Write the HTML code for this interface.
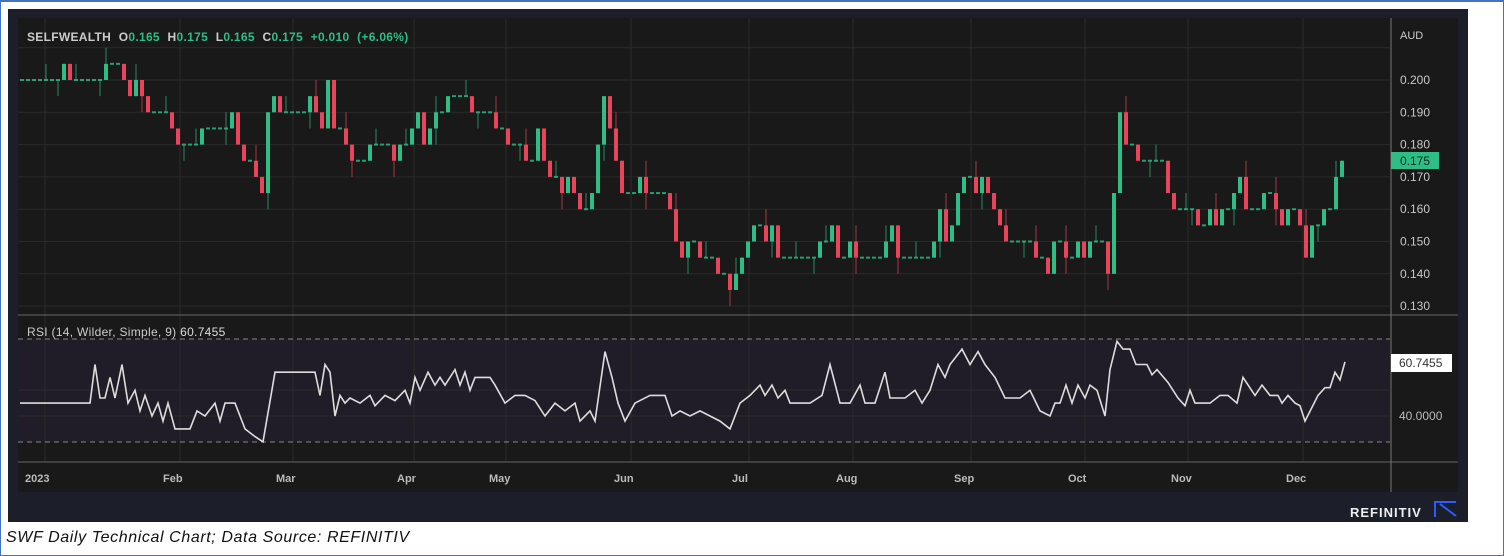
<!DOCTYPE html>
<html><head><meta charset="utf-8"><style>
body{margin:0;width:1504px;height:556px;background:#fff;overflow:hidden;font-family:"Liberation Sans",sans-serif}
#frame{position:absolute;left:0;top:0;width:1502px;height:554px;border:1px solid #4472c4;border-top:2px solid #4472c4;box-sizing:border-box;width:1504px;height:556px}
#panel{position:absolute;left:8px;top:9px;width:1460px;height:513px;background:#1c1f2a}
#cap{position:absolute;left:6px;top:529px;font-style:italic;font-size:16px;letter-spacing:0.6px;color:#111}
svg{position:absolute;left:0;top:0}
</style></head><body>
<div id="frame"></div>
<div id="panel"></div>
<div id="cap">SWF Daily Technical Chart; Data Source: REFINITIV</div>
<svg id="s" width="1504" height="556" xmlns="http://www.w3.org/2000/svg" font-family="Liberation Sans, sans-serif">
<rect x="18" y="18" width="1440" height="474" fill="#191919"/>
<rect x="18" y="339" width="1372" height="103" fill="#211d28"/>
<g id="grid" stroke="#2a2a2a" stroke-width="1"></g>
<line x1="18" y1="339" x2="1390" y2="339" stroke="#888" stroke-dasharray="5,4"/>
<line x1="18" y1="442" x2="1390" y2="442" stroke="#888" stroke-dasharray="5,4"/>
<line x1="18" y1="315" x2="1458" y2="315" stroke="#666"/>
<line x1="18" y1="462" x2="1458" y2="462" stroke="#666"/>
<line x1="1391" y1="18" x2="1391" y2="492" stroke="#777"/>
<g id="candles"></g>
<polyline id="rsi" fill="none" stroke="#ddd" stroke-width="1.6"/>
<text x="27" y="41" font-size="12" fill="#ccc" font-weight="bold" letter-spacing="0.3" word-spacing="4">SELFWEALTH <tspan fill="#ccc">O</tspan><tspan fill="#2ebd85">0.165</tspan> <tspan fill="#ccc">H</tspan><tspan fill="#2ebd85">0.175</tspan> <tspan fill="#ccc">L</tspan><tspan fill="#2ebd85">0.165</tspan> <tspan fill="#ccc">C</tspan><tspan fill="#2ebd85">0.175  +0.010 (+6.06%)</tspan></text>
<text x="27" y="336" font-size="12" fill="#ccc" letter-spacing="0.3">RSI (14, Wilder, Simple, 9) <tspan fill="#ddd">60.7455</tspan></text>
<text x="1400" y="39" font-size="11" fill="#ccc">AUD</text>
<g id="plab" font-size="12" fill="#c8c8c8"></g>
<rect x="1391" y="152" width="48" height="17" fill="#2ebd85"/>
<text x="1400" y="165" font-size="12" fill="#0e2a1e">0.175</text>
<rect x="1391" y="354" width="61" height="18" fill="#fff"/>
<text x="1399" y="367" font-size="12" fill="#333">60.7455</text>
<text x="1399" y="420" font-size="12" fill="#bbb">40.0000</text>
<g id="tlab" font-size="11" fill="#bbb" font-weight="bold"></g>
<text x="1350" y="517" font-size="13" fill="#eee" font-weight="bold" letter-spacing="1">REFINITIV</text>
<path d="M1435 517 V502 H1456 M1440 504 L1456 516" stroke="#2a5cff" stroke-width="2" fill="none"/>
</svg>
<script>
var NS="http://www.w3.org/2000/svg";
function el(p,t,a,txt){var e=document.createElementNS(NS,t);for(var k in a)e.setAttribute(k,a[k]);if(txt)e.textContent=txt;document.getElementById(p).appendChild(e);return e;}
function py(p){return 80+(0.2-p)*3230;}
var months=[["2023",37],["Feb",172],["Mar",285],["Apr",406],["May",498],["Jun",623],["Jul",741],["Aug",845],["Sep",963],["Oct",1077],["Nov",1180],["Dec",1295]];
months.forEach(function(m){el("grid","line",{x1:m[1]+8,y1:18,x2:m[1]+8,y2:462});el("tlab","text",{x:m[1]-(m[0]=="2023"?12:9),y:482},m[0]);});
for(var p=0.13;p<=0.2101;p+=0.01){var y=py(p);el("grid","line",{x1:18,y1:y,x2:1390,y2:y});if(p<0.205)el("plab","text",{x:1400,y:y+4},p.toFixed(3));}
[390,416].forEach(function(y){el("grid","line",{x1:18,y1:y,x2:1390,y2:y});});
function interp(a,x){for(var i=0;i<a.length-1;i++){if(x>=a[i][0]&&x<=a[i+1][0]){var t=(x-a[i][0])/((a[i+1][0]-a[i][0])||1);return a[i][1]+t*(a[i+1][1]-a[i][1]);}}return a[a.length-1][1];}
var P=[[20,200],[60,200],[65,205],[70,200],[95,200],[117,205],[122,205],[128,195],[140,200],[146,190],[160,190],[175,185],[180,180],[195,180],[200,185],[230,185],[233,190],[240,175],[245,175],[255,170],[262,165],[268,190],[275,195],[280,190],[300,190],[310,195],[320,190],[322,185],[328,200],[332,185],[340,185],[345,180],[355,175],[365,175],[375,180],[385,180],[395,175],[405,180],[418,190],[425,180],[430,185],[440,190],[452,195],[458,190],[462,195],[470,190],[490,190],[495,185],[505,185],[510,180],[520,180],[530,175],[540,185],[545,175],[560,165],[570,170],[580,160],[590,160],[598,180],[605,200],[612,180],[618,175],[625,160],[630,165],[640,170],[650,165],[660,165],[670,160],[675,150],[680,145],[690,150],[700,145],[710,145],[720,140],[730,135],[735,140],[740,145],[745,150],[755,155],[765,150],[770,155],[780,145],[810,145],[825,150],[830,155],[840,145],[850,150],[860,145],[880,145],[890,155],[900,145],[920,145],[925,140],[935,150],[940,160],[945,150],[950,155],[960,165],[965,170],[975,165],[985,170],[995,160],[1000,155],[1010,150],[1015,155],[1020,150],[1030,150],[1040,145],[1050,140],[1055,150],[1060,150],[1068,140],[1075,150],[1085,145],[1090,150],[1100,150],[1108,140],[1115,170],[1120,190],[1125,180],[1130,185],[1140,170],[1145,175],[1160,175],[1165,170],[1172,160],[1190,160],[1195,155],[1205,155],[1210,160],[1218,155],[1222,160],[1230,160],[1240,170],[1245,160],[1262,160],[1268,170],[1275,160],[1285,155],[1290,160],[1298,160],[1305,145],[1310,155],[1315,150],[1320,160],[1330,160],[1335,170],[1345,175]];
var prev=0.2,k=0;
for(var x=22;x<=1346;x+=6){
 if(x>1108&&x<1114)continue;
 var c=Math.round(interp(P,x)/5)*5/1000;var o=prev;k++;
 var up=c>=o;var col=up?"#2ebd85":"#e8445a";
 var hi=Math.max(o,c),lo=Math.min(o,c);
 if(k%5==0)hi+=0.005; if(k%7==0)lo-=0.005;
 el("candles","line",{x1:x,y1:py(hi),x2:x,y2:py(lo),stroke:col,"stroke-width":1,opacity:0.7});
 var h=Math.abs(py(o)-py(c));
 if(h<2){el("candles","rect",{x:x-2,y:py(c)-1,width:4,height:2,fill:col,opacity:0.8});}
 else el("candles","rect",{x:x-2,y:py(Math.max(o,c)),width:4,height:h,fill:col});
 prev=c;
}
var R=[[20,45],[90,45],[95,60],[100,47],[105,47],[110,55],[115,47],[122,60],[128,45],[135,50],[140,42],[145,48],[152,40],[158,45],[163,38],[168,45],[175,35],[190,35],[197,42],[205,40],[215,45],[220,38],[225,45],[235,45],[245,35],[255,32],[263,30],[275,57],[315,57],[320,48],[325,60],[330,57],[335,40],[340,48],[345,45],[350,47],[360,45],[370,48],[375,44],[385,48],[395,46],[405,50],[410,45],[415,55],[420,50],[428,57],[435,52],[440,55],[445,52],[455,58],[460,52],[465,57],[470,50],[475,55],[490,55],[495,52],[505,45],[515,48],[525,48],[535,46],[545,40],[555,45],[565,42],[575,45],[580,38],[590,42],[595,38],[605,65],[612,55],[618,45],[625,38],[635,45],[650,48],[665,48],[672,40],[680,42],[690,40],[700,42],[710,40],[720,38],[730,35],[740,45],[750,48],[760,52],[765,48],[772,52],[778,47],[785,50],[790,45],[810,45],[822,48],[830,60],[840,45],[850,45],[860,52],[865,45],[875,45],[885,57],[890,47],[905,47],[915,50],[922,45],[930,50],[938,60],[945,55],[950,60],[962,66],[970,60],[978,65],[985,60],[995,55],[1005,47],[1020,47],[1030,50],[1040,42],[1050,40],[1055,45],[1060,45],[1066,52],[1072,45],[1078,52],[1085,47],[1090,52],[1097,50],[1105,40],[1110,58],[1117,69],[1123,66],[1130,66],[1136,60],[1147,60],[1152,56],[1157,58],[1168,53],[1178,47],[1185,44],[1190,50],[1195,45],[1210,45],[1220,48],[1228,48],[1237,45],[1243,55],[1255,48],[1262,52],[1270,48],[1278,48],[1282,45],[1288,48],[1295,45],[1300,44],[1305,38],[1318,48],[1325,51],[1330,51],[1335,57],[1340,54],[1345,61]];
document.getElementById("rsi").setAttribute("points",R.map(function(r){return r[0]+","+(416-(r[1]-40)*2.575).toFixed(1);}).join(" "));
</script>
</body></html>
